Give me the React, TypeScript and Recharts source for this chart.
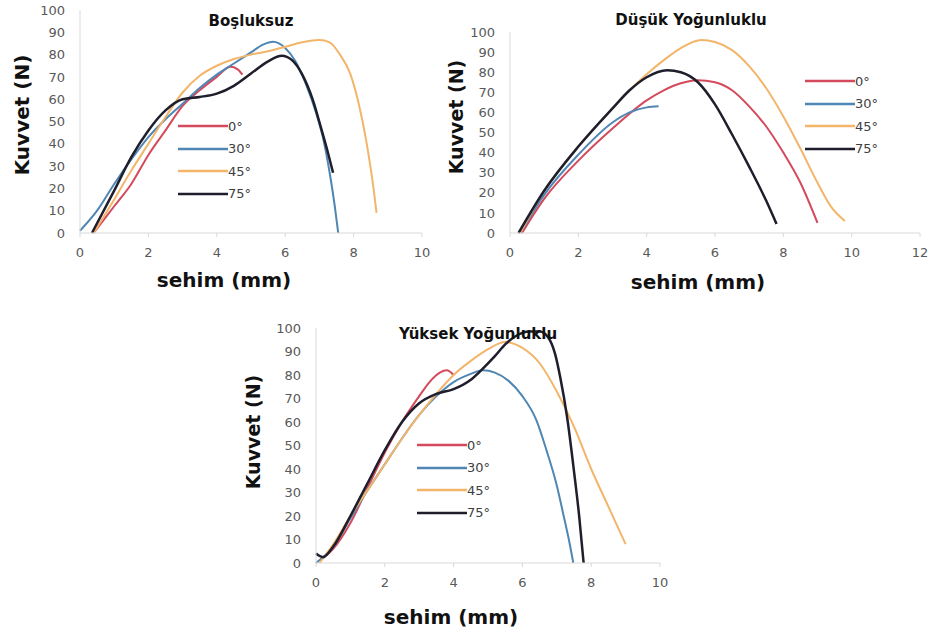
import { LineChart, Line, XAxis, YAxis, Legend } from "recharts";

type Pt = [number, number];

const angles = ["0°", "30°", "45°", "75°"];
const colors = ["#d44a5c", "#4f86b3", "#f2b56a", "#1e1e2c"];
const widths = [2, 2, 2, 2.5];

const yTicks = [0, 10, 20, 30, 40, 50, 60, 70, 80, 90, 100];
const xTicks10 = [0, 2, 4, 6, 8, 10];
const xTicks12 = [0, 2, 4, 6, 8, 10, 12];

// Boşluksuz
const bos0: Pt[] = [[0.4, 0], [1, 12], [1.5, 22], [2, 35], [2.5, 46], [3, 57], [3.5, 64], [4, 70], [4.4, 74.5], [4.6, 73.5], [4.75, 71]];
const bos30: Pt[] = [[0, 1], [0.5, 10], [1, 22], [1.5, 33], [2, 43], [2.5, 51], [3, 58], [3.5, 65], [4, 71], [4.5, 76], [5, 81], [5.35, 84.5], [5.65, 85.8], [6, 83], [6.3, 77], [6.6, 67], [6.9, 54], [7.1, 43], [7.3, 27], [7.45, 12], [7.55, 0]];
const bos45: Pt[] = [[0.4, 0], [1, 15], [1.5, 28], [2, 40], [2.5, 52], [3, 63], [3.5, 70.5], [4, 75], [4.5, 78], [5, 80], [5.5, 81.5], [6, 83.5], [6.5, 85.5], [7, 86.5], [7.3, 85.5], [7.6, 80], [7.9, 71.5], [8.15, 58], [8.35, 43], [8.5, 29], [8.6, 18], [8.67, 9]];
const bos75: Pt[] = [[0.35, 0], [1, 19], [1.5, 34], [2, 46], [2.5, 55], [3, 60], [3.5, 61], [4, 62.5], [4.5, 66], [5, 71.5], [5.5, 77], [5.9, 79.5], [6.2, 77.5], [6.5, 71], [6.8, 60], [7.05, 47], [7.25, 36], [7.4, 27]];

// Düşük Yoğunluklu
const dus0: Pt[] = [[0.35, 0], [1, 17], [2, 36], [3, 52], [4, 66], [4.5, 71], [5, 74.5], [5.5, 76], [6, 75], [6.5, 71], [7, 63], [7.5, 53], [8, 40], [8.5, 25], [9, 5]];
const dus30: Pt[] = [[0.3, 0], [1, 19], [2, 39], [3, 55], [3.5, 60], [4, 62.5], [4.35, 63]];
const dus45: Pt[] = [[0.3, 0], [1, 21], [2, 43], [3, 62], [3.5, 71], [4, 79], [4.5, 86], [5, 92], [5.6, 96], [6, 95], [6.5, 91], [7, 83], [7.5, 72], [8, 58], [8.5, 42], [9, 25], [9.4, 13], [9.8, 6]];
const dus75: Pt[] = [[0.25, 0], [1, 21], [2, 43], [3, 62], [3.5, 71], [4, 77.5], [4.6, 81], [5, 80], [5.5, 75], [6, 64], [6.5, 49], [7, 33], [7.5, 16], [7.8, 4.5]];

// Yüksek Yoğunluklu
const yuk0: Pt[] = [[0.1, 1], [0.5, 6], [1, 17], [1.5, 32], [2, 47], [2.5, 60], [3, 71], [3.3, 77], [3.6, 81], [3.8, 82], [4, 80]];
const yuk30: Pt[] = [[0, 0], [0.5, 7], [1, 19], [1.5, 31], [2, 42], [2.5, 53], [3, 63], [3.5, 71], [4, 77], [4.5, 80.5], [4.85, 82], [5.2, 81], [5.6, 77.5], [6, 71], [6.4, 61], [6.7, 48], [7, 33], [7.2, 20], [7.35, 10], [7.48, 0]];
const yuk45: Pt[] = [[0.1, 0], [0.5, 8], [1, 20], [1.5, 31], [2, 42], [2.5, 53], [3, 63], [3.5, 72], [4, 80], [4.5, 86], [5, 91], [5.5, 94], [6, 91.5], [6.5, 85], [7, 73], [7.5, 58], [8, 40], [8.5, 24], [9, 8]];
const yuk75: Pt[] = [[0, 4], [0.2, 2.5], [0.5, 7], [1, 20], [1.5, 34], [2, 48], [2.5, 60], [3, 68], [3.5, 72], [4, 74], [4.5, 78], [4.8, 82], [5.2, 88], [5.5, 93], [5.8, 96.5], [6.2, 98.5], [6.5, 98.5], [6.75, 96], [6.95, 89], [7.1, 79], [7.3, 62], [7.5, 39], [7.65, 20], [7.78, 0]];

const toRows = (pts: Pt[]) => pts.map(([x, y]) => ({ x, y }));

const tickStyle = { fill: "#595959", fontSize: 13, fontFamily: "DejaVu Sans" };

function renderLegend(props: any) {
  const items = props.payload || [];
  return (
    <div>
      {items.map((it: any) => (
        <div key={it.value} style={{ display: "flex", alignItems: "center", height: 22.5 }}>
          <svg width={50} height={6}>
            <line x1={0} y1={3} x2={50} y2={3} stroke={it.color} strokeWidth={2.5} />
          </svg>
          <span style={{ fontSize: 13, fontFamily: "DejaVu Sans", color: "#404040" }}>{it.value}</span>
        </div>
      ))}
    </div>
  );
}

type PanelProps = {
  left: number;
  top: number;
  width: number;
  height: number;
  plotTop: number;
  plotRight: number;
  yAxisWidth: number;
  xAxisHeight: number;
  xMax: number;
  xTicks: number[];
  series: Pt[][];
  legendLeft: number;
  legendTop: number;
};

function Panel(p: PanelProps) {
  return (
    <div style={{ position: "absolute", left: p.left, top: p.top }}>
      <LineChart width={p.width} height={p.height} margin={{ top: p.plotTop, right: p.plotRight, left: 0, bottom: 0 }}>
        <XAxis
          type="number"
          dataKey="x"
          domain={[0, p.xMax]}
          ticks={p.xTicks}
          interval={0}
          height={p.xAxisHeight}
          stroke="#d9d9d9"
          tickSize={4}
          tickMargin={11}
          tick={tickStyle}
        />
        <YAxis
          type="number"
          domain={[0, 100]}
          ticks={yTicks}
          interval={0}
          width={p.yAxisWidth}
          stroke="#d9d9d9"
          tickLine={false}
          tickSize={0}
          tickMargin={15}
          tick={tickStyle}
        />
        {p.series.map((s, i) => (
          <Line
            key={angles[i]}
            data={toRows(s)}
            dataKey="y"
            name={angles[i]}
            type="monotone"
            stroke={colors[i]}
            strokeWidth={widths[i]}
            dot={false}
            activeDot={false}
            isAnimationActive={false}
          />
        ))}
        <Legend
          layout="vertical"
          align="center"
          verticalAlign="middle"
          wrapperStyle={{ left: p.legendLeft, top: p.legendTop, width: 90 }}
          content={renderLegend}
        />
      </LineChart>
    </div>
  );
}

function Caption({ x, y, text, size, rotate }: { x: number; y: number; text: string; size: number; rotate?: boolean }) {
  return (
    <div
      style={{
        position: "absolute",
        left: x,
        top: y,
        transform: `translate(-50%, -50%)${rotate ? " rotate(-90deg)" : ""}`,
        whiteSpace: "nowrap",
        fontFamily: "DejaVu Sans",
        fontWeight: "bold",
        fontSize: size,
        color: "#111",
        lineHeight: 1,
      }}
    >
      {text}
    </div>
  );
}

export default function App() {
  return (
    <div style={{ position: "absolute", left: 0, top: 0, width: 934, height: 635, background: "#fff", overflow: "hidden" }}>
      <Panel
        left={0}
        top={0}
        width={440}
        height={300}
        plotTop={10}
        plotRight={18}
        yAxisWidth={80}
        xAxisHeight={67}
        xMax={10}
        xTicks={xTicks10}
        series={[bos0, bos30, bos45, bos75]}
        legendLeft={178}
        legendTop={115}
      />
      <Panel
        left={440}
        top={0}
        width={494}
        height={300}
        plotTop={32}
        plotRight={14}
        yAxisWidth={70}
        xAxisHeight={67}
        xMax={12}
        xTicks={xTicks12}
        series={[dus0, dus30, dus45, dus75]}
        legendLeft={365}
        legendTop={70}
      />
      <Panel
        left={230}
        top={300}
        width={450}
        height={335}
        plotTop={28}
        plotRight={20}
        yAxisWidth={86}
        xAxisHeight={72}
        xMax={10}
        xTicks={xTicks10}
        series={[yuk0, yuk30, yuk45, yuk75]}
        legendLeft={187}
        legendTop={134}
      />

      <Caption x={251} y={21} text="Boşluksuz" size={15} />
      <Caption x={691} y={20} text="Düşük Yoğunluklu" size={15} />
      <Caption x={478} y={334} text="Yüksek Yoğunluklu" size={15} />

      <Caption x={22} y={115} text="Kuvvet (N)" size={20} rotate />
      <Caption x={456} y={117} text="Kuvvet (N)" size={19} rotate />
      <Caption x={253} y={432} text="Kuvvet (N)" size={19} rotate />

      <Caption x={224} y={280} text="sehim (mm)" size={20} />
      <Caption x={698} y={282} text="sehim (mm)" size={20} />
      <Caption x={451} y={617} text="sehim (mm)" size={20} />
    </div>
  );
}
